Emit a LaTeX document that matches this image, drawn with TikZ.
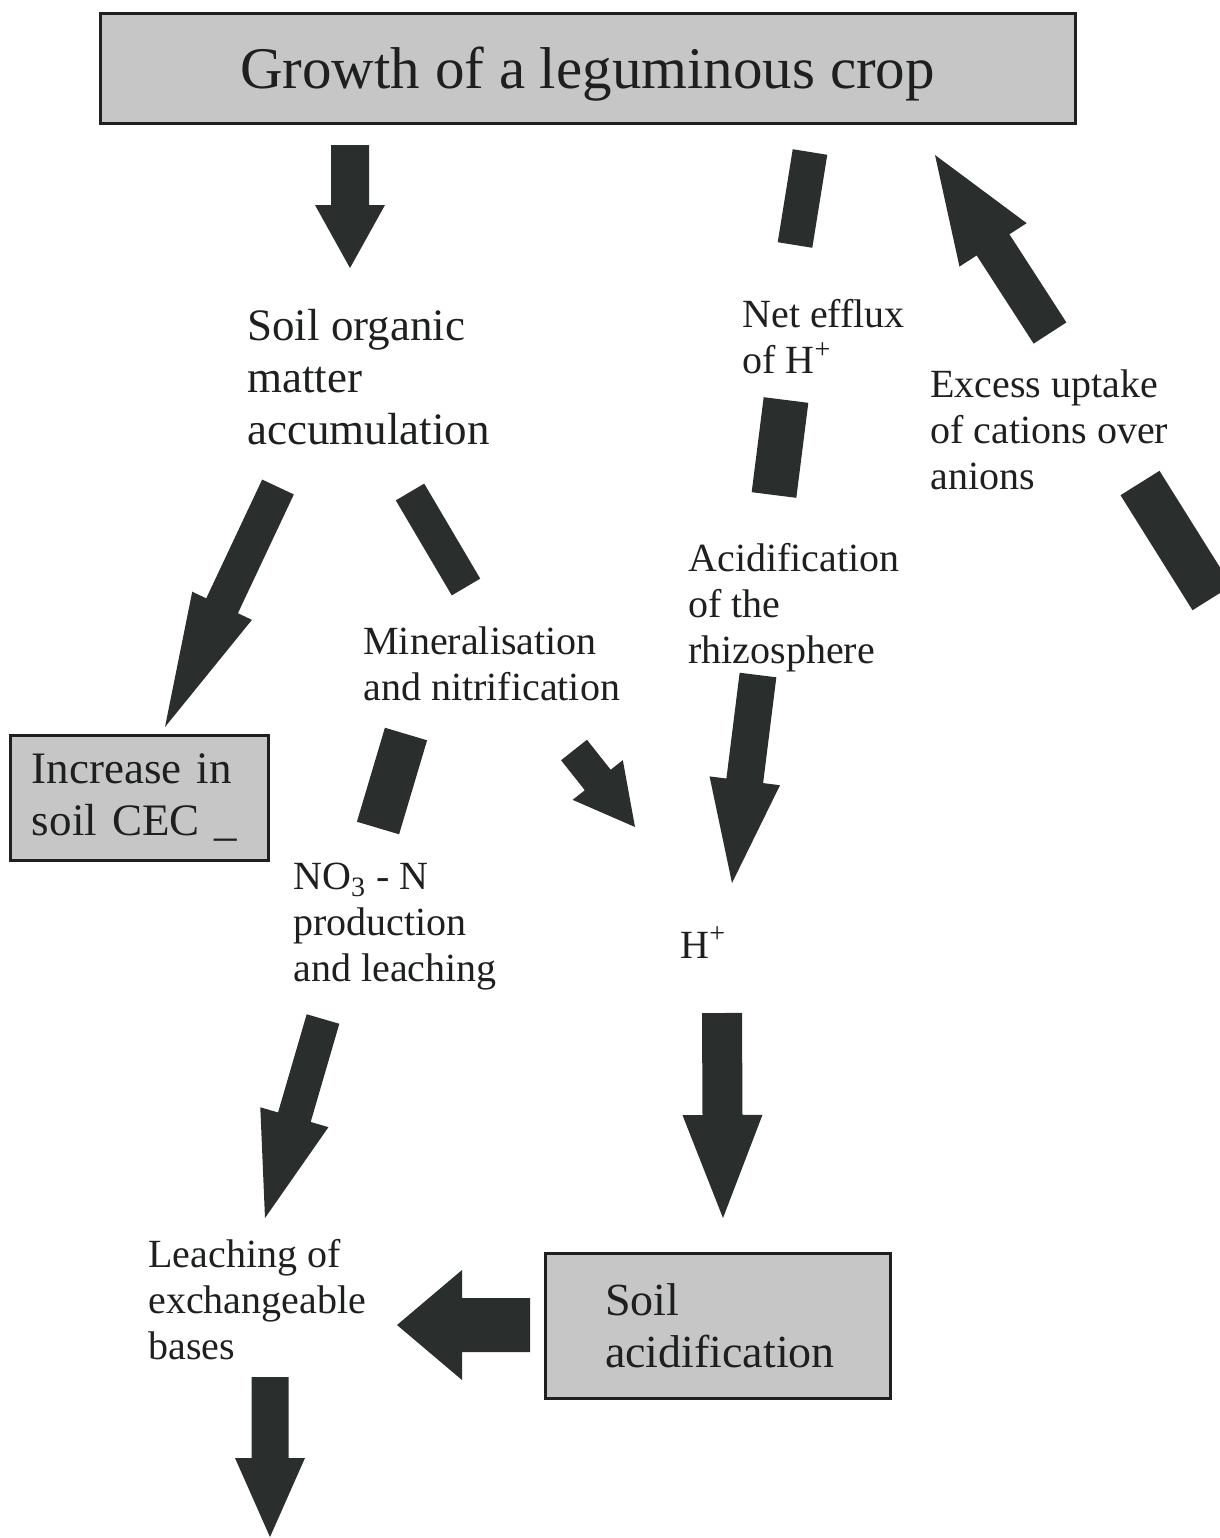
\documentclass[tikz,border=0pt]{standalone}
\usepackage{fontspec}
\setmainfont{Liberation Serif}
\usetikzlibrary{calc}
\definecolor{arrowcol}{RGB}{42,47,46}
\definecolor{inkcol}{RGB}{30,32,32}
\definecolor{boxfill}{RGB}{198,198,198}
% tail, tip, half shaft width, half head width, head length
\newcommand\fatarrowdraw[5]{%
  \coordinate (fab) at ($(#2)!#5!(#1)$);
  \fill[arrowcol] ($(#1)!#3!90:(#2)$) -- ($(fab)!#3!90:(#2)$) -- ($(fab)!#4!90:(#2)$)
    -- (#2) -- ($(fab)!#4!-90:(#2)$) -- ($(fab)!#3!-90:(#2)$) -- ($(#1)!#3!-90:(#2)$) -- cycle;}
\begin{document}
\begin{tikzpicture}[x=0.5pt,y=-0.5pt,
  every node/.style={inner sep=0pt, text=inkcol},
  lbl/.style={anchor=north west, align=left, font=\fontsize{20}{23}\selectfont},
  greybox/.style={draw=inkcol, line width=1.5pt, fill=boxfill},
  seg/.style={draw=arrowcol}]
\useasboundingbox (0,0) rectangle (1220,1538);
\clip (0,0) rectangle (1220,1538);

% boxes
\node[greybox, minimum width=487.5pt, minimum height=55pt, text depth=0pt,
      font=\fontsize{29.5}{33}\selectfont] (crop) at (587.5,68) {Growth of a leguminous crop};
\node[greybox, align=left, text width=107pt, inner xsep=11pt, minimum height=62.5pt,
      font=\fontsize{22.5}{26}\selectfont] (cec) at (139,797.5) {Increase in\\soil CEC \_};
\node[greybox, align=left, text width=112.5pt, inner xsep=30pt, minimum height=72.5pt,
      font=\fontsize{23}{26}\selectfont] (acid) at (717.5,1325.5) {Soil\\acidification};

% labels
\node[lbl, font=\fontsize{22.5}{26}\selectfont] (som) at (247,309) {Soil organic\\matter\\accumulation};
\node[lbl] (efflux) at (742,299) {Net efflux\\of H\textsuperscript{+}};
\node[lbl] (excess) at (930,369) {Excess uptake\\of cations over\\anions};
\node[lbl] (rhizo) at (688,543) {Acidification\\of the\\rhizosphere};
\node[lbl] (miner) at (363,626) {Mineralisation\\and nitrification};
\node[lbl] (nitrate) at (293,863) {NO\textsubscript{3} - N\\production\\and leaching};
\node[anchor=base west, font=\fontsize{20}{23}\selectfont] (hplus) at (680,958) {H\textsuperscript{+}};
\node[lbl] (bases) at (148,1239) {Leaching of\\exchangeable\\bases};

% arrow end points
\coordinate (a1t) at (350,145);   \coordinate (a1h) at (350,268);
\coordinate (a2t) at (278,487);   \coordinate (a2h) at (165,727);
\coordinate (a5t) at (323,1019);  \coordinate (a5h) at (265,1218);
\coordinate (a6t) at (574,750);   \coordinate (a6h) at (635,827);
\coordinate (a8t) at (758,675);   \coordinate (a8h) at (732,883);
\coordinate (a9t) at (1050,333);  \coordinate (a9h) at (935,155);
\coordinate (a11t) at (722,1013); \coordinate (a11h) at (723,1218);
\coordinate (a12t) at (530,1325); \coordinate (a12h) at (397,1325);
\coordinate (a13t) at (270,1377); \coordinate (a13h) at (270,1537);

\coordinate (s1a) at (410,492);  \coordinate (s1b) at (466,587);
\coordinate (s2a) at (406,734);  \coordinate (s2b) at (378,828);
\coordinate (s3a) at (810,152);  \coordinate (s3b) at (795,245);
\coordinate (s4a) at (786,400);  \coordinate (s4b) at (774,495);
\coordinate (s5a) at (1140,483); \coordinate (s5b) at (1212,598);

% block arrows
\fatarrowdraw{a1t}{a1h}{9.5pt}{17.5pt}{31.5pt}
\fatarrowdraw{a2t}{a2h}{8.75pt}{16.5pt}{67pt}
\fatarrowdraw{a5t}{a5h}{8.5pt}{17.75pt}{52.5pt}
\fatarrowdraw{a6t}{a6h}{8.25pt}{16pt}{30pt}
\fatarrowdraw{a8t}{a8h}{9.25pt}{17.75pt}{51.5pt}
\fatarrowdraw{a9t}{a9h}{9.75pt}{20pt}{53.5pt}
\fatarrowdraw{a11t}{a11h}{10pt}{20pt}{51.5pt}
\fatarrowdraw{a12t}{a12h}{13.5pt}{27.5pt}{32.5pt}
\fatarrowdraw{a13t}{a13h}{9.25pt}{17.5pt}{39.5pt}

% arrow pieces interrupted by labels
\draw[seg, line width=16.5pt] (s1a) -- (s1b);
\draw[seg, line width=22pt] (s2a) -- (s2b);
\draw[seg, line width=17.5pt] (s3a) -- (s3b);
\draw[seg, line width=22.5pt] (s4a) -- (s4b);
\draw[seg, line width=23pt] (s5a) -- (s5b);
\end{tikzpicture}
\end{document}
